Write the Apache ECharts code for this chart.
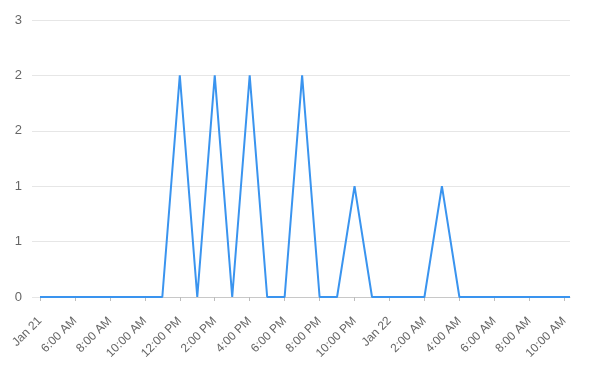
<!DOCTYPE html>
<html><head><meta charset="utf-8">
<script src="https://cdn.jsdelivr.net/npm/echarts@6/dist/echarts.min.js"></script>
<style>html,body{margin:0;padding:0;background:#fff}#c{width:592px;height:368px}</style>
</head><body><div id="c"></div>
<script>
// hours since Jan 21, 4:00 AM
const hours = [0,1,2,3,4,5,6,7,8,9,10,11,12,13,14,15,16,17,18,19,20,21,22,23,24,25,26,27,28,29,30,30.33];
const counts = [0,0,0,0,0,0,0,0,2,0,2,0,2,0,0,2,0,0,1,0,0,0,0,1,0,0,0,0,0,0,0,0];
const tickHours = [0,2,4,6,8,10,12,14,16,18,20,22,24,26,28,30];
const tickLabels = ['Jan 21','6:00 AM','8:00 AM','10:00 AM','12:00 PM','2:00 PM','4:00 PM','6:00 PM','8:00 PM','10:00 PM','Jan 22','2:00 AM','4:00 AM','6:00 AM','8:00 AM','10:00 AM'];

const chart = echarts.init(document.getElementById('c'));
chart.setOption({
  animation:false,
  grid:{left:40,right:22,top:20,bottom:71,containLabel:false},
  xAxis:{
    type:'value', min:0, max:30.33, interval:2,
    axisLine:{show:true,lineStyle:{color:'#c8c8c8',width:1}},
    axisTick:{show:true,length:4,lineStyle:{color:'#bdbdbd'},customValues:tickHours},
    splitLine:{show:false},
    axisLabel:{customValues:tickHours,rotate:45,margin:22,color:'#666',fontSize:12,fontFamily:'Liberation Sans, Arial, sans-serif',
      formatter:function(v){const i=tickHours.indexOf(Math.round(v));return i>=0?tickLabels[i]:'';}}
  },
  yAxis:{
    type:'value', min:0, max:2.5, interval:0.5,
    axisLine:{show:false},
    axisTick:{show:true,length:8,lineStyle:{color:'#e6e6e6'}},
    splitLine:{lineStyle:{color:'#e6e6e6',width:1}},
    axisLabel:{margin:18,color:'#666',fontSize:13,fontFamily:'Liberation Sans, Arial, sans-serif',
      formatter:function(v){return String(Math.round(v));}}
  },
  series:[{
    type:'line', data:hours.map((h,i)=>[h,counts[i]]),
    showSymbol:false, symbol:'none',
    lineStyle:{color:'#3a94ef',width:2},
    itemStyle:{color:'#3a94ef'}
  }]
});
</script></body></html>
